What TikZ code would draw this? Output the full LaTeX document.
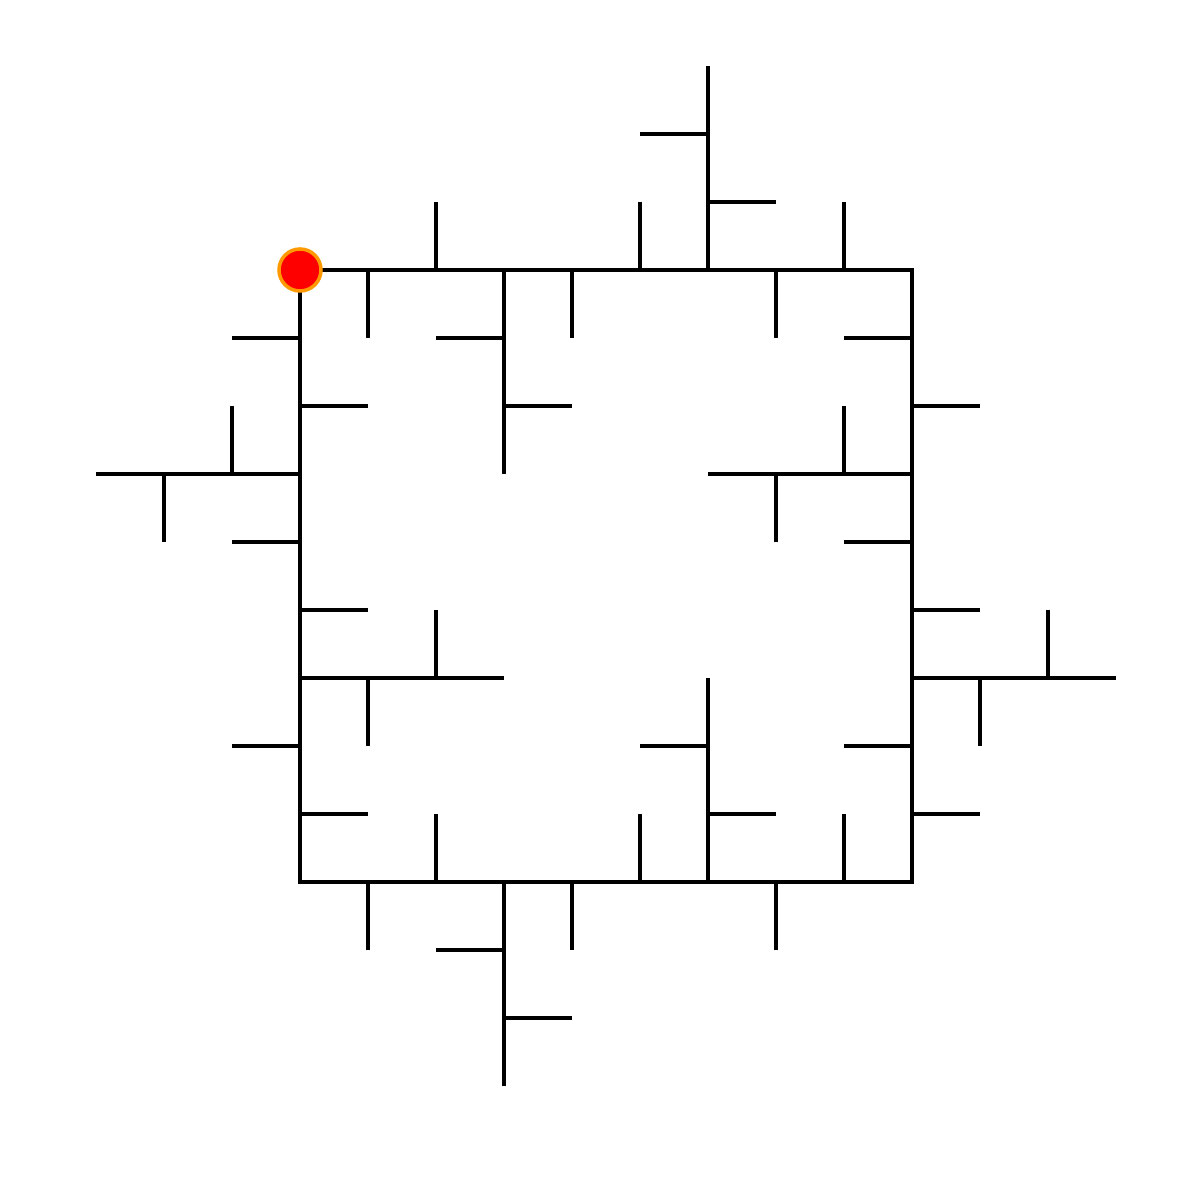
\documentclass[tikz,border=0pt]{standalone}
\begin{document}
\begin{tikzpicture}[x=0.68cm,y=-0.68cm,
  seg/.style={line width=0.95pt,black,line cap=butt},
  startdot/.style={circle,fill=red,draw=orange!80!yellow,line width=1pt,minimum size=0.42cm,inner sep=0pt}]
\useasboundingbox (-4.41176,-3.97059) rectangle (13.23529,13.67647);
% main square
\draw[seg] (0,0) -- (9,0) -- (9,9) -- (0,9) -- cycle;
% top edge
\draw[seg] (2,0) -- (2,-1);
\draw[seg] (1,0) -- (1,1);
\draw[seg] (3,0) -- (3,3);
\draw[seg] (2,1) -- (3,1);
\draw[seg] (3,2) -- (4,2);
\draw[seg] (4,0) -- (4,1);
\draw[seg] (5,0) -- (5,-1);
\draw[seg] (6,0) -- (6,-3);
\draw[seg] (5,-2) -- (6,-2);
\draw[seg] (6,-1) -- (7,-1);
\draw[seg] (7,0) -- (7,1);
\draw[seg] (8,0) -- (8,-1);
% right edge
\draw[seg] (8,1) -- (9,1);
\draw[seg] (9,2) -- (10,2);
\draw[seg] (6,3) -- (9,3);
\draw[seg] (8,2) -- (8,3);
\draw[seg] (7,3) -- (7,4);
\draw[seg] (8,4) -- (9,4);
\draw[seg] (9,5) -- (10,5);
\draw[seg] (9,6) -- (12,6);
\draw[seg] (11,5) -- (11,6);
\draw[seg] (10,6) -- (10,7);
\draw[seg] (8,7) -- (9,7);
\draw[seg] (9,8) -- (10,8);
% bottom edge
\draw[seg] (1,9) -- (1,10);
\draw[seg] (2,8) -- (2,9);
\draw[seg] (3,9) -- (3,12);
\draw[seg] (2,10) -- (3,10);
\draw[seg] (3,11) -- (4,11);
\draw[seg] (4,9) -- (4,10);
\draw[seg] (5,8) -- (5,9);
\draw[seg] (6,6) -- (6,9);
\draw[seg] (5,7) -- (6,7);
\draw[seg] (6,8) -- (7,8);
\draw[seg] (7,9) -- (7,10);
\draw[seg] (8,8) -- (8,9);
% left edge
\draw[seg] (-1,1) -- (0,1);
\draw[seg] (0,2) -- (1,2);
\draw[seg] (-3,3) -- (0,3);
\draw[seg] (-1,2) -- (-1,3);
\draw[seg] (-2,3) -- (-2,4);
\draw[seg] (-1,4) -- (0,4);
\draw[seg] (0,5) -- (1,5);
\draw[seg] (0,6) -- (3,6);
\draw[seg] (2,5) -- (2,6);
\draw[seg] (1,6) -- (1,7);
\draw[seg] (-1,7) -- (0,7);
\draw[seg] (0,8) -- (1,8);
% start point
\node[startdot] (start) at (0,0) {};
\end{tikzpicture}
\end{document}
